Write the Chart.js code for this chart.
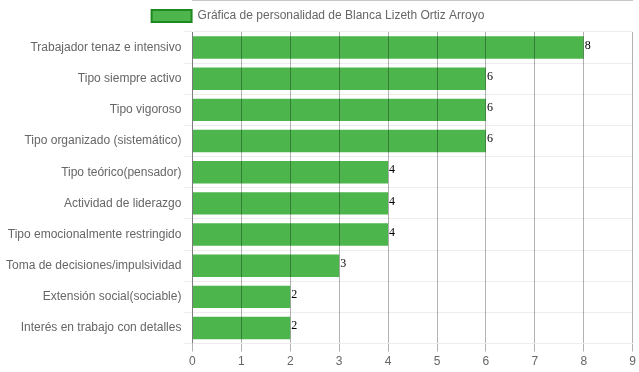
<!DOCTYPE html>
<html>
<head>
<meta charset="utf-8">
<script src="https://cdn.jsdelivr.net/npm/chart.js@4"></script>
<style>
  html, body { margin: 0; padding: 0; background: #fff; }
  #wrap { width: 639px; height: 372px; }
</style>
</head>
<body>
<div id="wrap"><canvas id="barCanvas"></canvas></div>
<script>
const categories = [
    "Trabajador tenaz e intensivo",
    "Tipo siempre activo",
    "Tipo vigoroso",
    "Tipo organizado (sistemático)",
    "Tipo teórico(pensador)",
    "Actividad de liderazgo",
    "Tipo emocionalmente restringido",
    "Toma de decisiones/impulsividad",
    "Extensión social(sociable)",
    "Interés en trabajo con detalles"
];
const scores = [8, 6, 6, 6, 4, 4, 4, 3, 2, 2];
const seriesName = "Gráfica de personalidad de Blanca Lizeth Ortiz Arroyo";

Chart.defaults.font.family = "'Liberation Sans', Arial, sans-serif";
Chart.defaults.font.size = 12;
Chart.defaults.color = "#666";

// écrit la valeur au bout de chaque barre
const valueLabels = {
    id: "valueLabels",
    afterDatasetsDraw(chart) {
        const ctx = chart.ctx;
        ctx.save();
        ctx.font = "12px 'Liberation Serif', serif";
        ctx.fillStyle = "#000";
        ctx.textAlign = "left";
        ctx.textBaseline = "middle";
        chart.getDatasetMeta(0).data.forEach((bar, i) => {
            ctx.fillText(chart.data.datasets[0].data[i], bar.x + 1, bar.y - 2);
        });
        ctx.restore();
    }
};

new Chart(document.getElementById("barCanvas"), {
    type: "bar",
    data: {
        labels: categories,
        datasets: [{
            label: seriesName,
            data: scores,
            backgroundColor: "#4CB54C",
            borderColor: "#1E8A1E",
            borderWidth: 2,
            borderSkipped: true
        }]
    },
    options: {
        indexAxis: "y",
        responsive: true,
        maintainAspectRatio: false,
        animation: false,
        layout: { padding: { left: 3, right: 6 } },
        plugins: {
            legend: {
                labels: { boxWidth: 40, boxHeight: 12 }
            },
            tooltip: { enabled: false }
        },
        scales: {
            x: {
                min: 0,
                max: 9,
                ticks: { stepSize: 1 },
                grid: { color: "rgba(0,0,0,0.3)", z: 1 },
                border: { color: "rgba(0,0,0,0.45)" }
            },
            y: {
                grid: { color: "rgba(0,0,0,0.07)", offset: true },
                border: { color: "rgba(0,0,0,0.3)" }
            }
        }
    },
    plugins: [valueLabels]
});
</script>
</body>
</html>
